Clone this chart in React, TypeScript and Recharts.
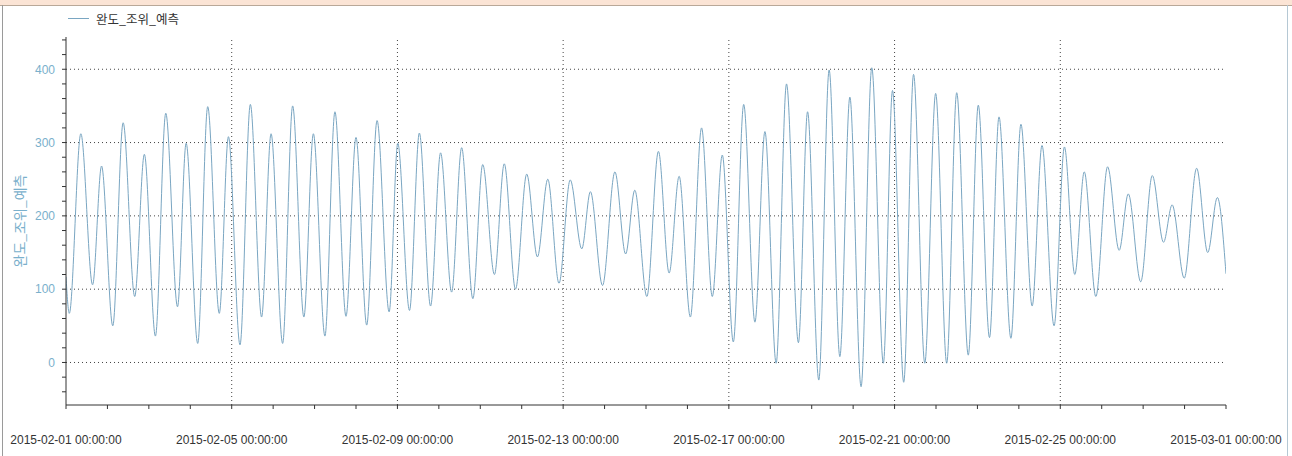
import React from 'react';
import { LineChart, Line, XAxis, YAxis, ReferenceLine } from 'recharts';

// Time of each high / low water, hours since 2015-02-01 00:00
const hours = [
  0, 1.9, 8.6, 15.4, 20.6, 27.1, 33.1, 39.8, 45.4, 51.8, 57.8, 64.6, 69.6, 76.3, 82.1, 88.8, 94.1,
  100.8, 106.8, 113.3, 118.8, 125.5, 131.3, 137.8, 143.3, 150.0, 155.8, 162.2, 168.0, 174.2, 180.2,
  187.2, 192.2, 199.0, 204.7, 211.2, 217.0, 223.4, 229.2, 235.7, 241.4, 248.2, 253.9, 260.4, 266.9,
  273.1, 279.1, 285.6, 292.1, 298.8, 303.8, 310.8, 318.0, 324.2, 329.5, 336.5, 343.2, 349.4, 355.2,
  361.7, 368.2, 374.4, 380.2, 386.6, 392.6, 399.1, 404.9, 411.4, 417.4, 424.3, 429.6, 436.1, 442.1,
  448.3, 454.1, 460.6, 466.8, 473.5, 478.8, 485.3, 491.0, 497.5, 503.8, 510.2, 516.0, 522.7, 528.5,
  535.0, 540.5, 547.4, 553.2, 559.7, 565.4, 572.4, 578.4, 584.4, 589.9, 596.6, 603.4, 610.1, 615.4,
  622.6, 629.3, 635.8, 640.8, 647.8, 655.0, 661.4, 667.0, 672,
];

// 완도 조위 예측 (cm) at those times
const levels = [
  117, 67, 312, 106, 268, 50, 327, 90, 284, 36, 340, 76, 299, 26, 349, 67, 308,
  24, 352, 62, 312, 26, 350, 62, 312, 36, 342, 63, 307, 51, 330,
  69, 299, 71, 313, 77, 286, 96, 293, 87, 270, 120, 271, 100, 257,
  144, 250, 108, 249, 155, 233, 105, 260, 148, 235, 90, 288, 122, 254,
  62, 320, 90, 283, 28, 352, 55, 315, -1, 380, 27, 342, -24, 399,
  8, 362, -33, 402, -1, 371, -27, 393, -1, 367, -1, 368, 10, 351,
  34, 335, 33, 325, 77, 296, 50, 294, 120, 260, 90, 267, 153, 230,
  110, 255, 164, 215, 115, 265, 150, 225, 121,
];

const xTickLabels = [
  '2015-02-01 00:00:00',
  '2015-02-05 00:00:00',
  '2015-02-09 00:00:00',
  '2015-02-13 00:00:00',
  '2015-02-17 00:00:00',
  '2015-02-21 00:00:00',
  '2015-02-25 00:00:00',
  '2015-03-01 00:00:00',
];

const yGridValues = [0, 100, 200, 300, 400];
const xGridHours = [96, 192, 288, 384, 480, 576];
const yMinorTicks = [-40, -20, 0, 20, 40, 60, 80, 100, 120, 140, 160, 180, 200, 220, 240, 260, 280, 300, 320, 340, 360, 380, 400, 420, 440];
const dayTicks = Array.from({ length: 29 }, (_, i) => i * 24);

const seriesName = '완도_조위_예측';

const data = hours.map((t, i) => ({ t, v: levels[i] }));

const LINE = '#7aa6c2';
const AXIS_TEXT = '#7ab0cc';
const X_DOMAIN: [number, number] = [0, 672];
const Y_DOMAIN: [number, number] = [-58, 444];

export default function App() {
  return (
    <div
      style={{
        position: 'absolute',
        left: 0,
        top: 0,
        width: 1292,
        height: 456,
        background: '#ffffff',
        overflow: 'hidden',
      }}
    >
      <div style={{ position: 'absolute', left: 0, top: 0, width: 1292, height: 5, background: '#fbe4d5' }} />
      <div style={{ position: 'absolute', left: 0, top: 5, width: 1292, height: 1, background: '#b9a898' }} />
      <div style={{ position: 'absolute', left: 2, top: 5, width: 1, height: 451, background: '#9a9a9a' }} />
      <div style={{ position: 'absolute', left: 1287, top: 5, width: 1, height: 451, background: '#b5c8d4' }} />

      <LineChart
        width={1292}
        height={456}
        data={data}
        margin={{ top: 37, right: 66, bottom: 11, left: 0 }}
        style={{ position: 'absolute', left: 0, top: 0 }}
      >
        <XAxis
          dataKey="t"
          type="number"
          domain={X_DOMAIN}
          ticks={dayTicks}
          interval={0}
          allowDataOverflow
          height={40}
          tickSize={4}
          tickMargin={26}
          axisLine={{ stroke: '#333', strokeWidth: 1 }}
          tickLine={{ stroke: '#333' }}
          tick={{ fill: '#333', fontSize: 12, fontFamily: 'Liberation Sans, Arial, sans-serif' }}
          tickFormatter={(h: number) => (h % 96 === 0 ? xTickLabels[h / 96] : '')}
        />
        <XAxis
          xAxisId="top"
          orientation="top"
          dataKey="t"
          type="number"
          domain={X_DOMAIN}
          ticks={dayTicks}
          interval={0}
          allowDataOverflow
          height={0}
          mirror
          tickSize={4}
          axisLine={{ stroke: '#333', strokeWidth: 1 }}
          tickLine={{ stroke: '#555' }}
          tick={false}
        />
        <YAxis
          type="number"
          domain={Y_DOMAIN}
          ticks={yMinorTicks}
          interval={0}
          allowDataOverflow
          width={66}
          tickSize={4}
          tickMargin={7}
          axisLine={{ stroke: '#333', strokeWidth: 1 }}
          tickLine={{ stroke: '#333' }}
          tick={{ fill: AXIS_TEXT, fontSize: 12, fontFamily: 'Liberation Sans, Arial, sans-serif' }}
          tickFormatter={(v: number) => (v % 100 === 0 ? String(v) : '')}
          label={{
            value: seriesName,
            angle: -90,
            position: 'center',
            dx: -13,
            fill: AXIS_TEXT,
            fontSize: 14,
            fontFamily: 'Noto Sans CJK KR, sans-serif',
          }}
        />
        <YAxis
          yAxisId="right"
          orientation="right"
          type="number"
          domain={Y_DOMAIN}
          allowDataOverflow
          width={0}
          tick={false}
          tickLine={false}
          axisLine={{ stroke: '#8a8a8a', strokeWidth: 2 }}
        />
        {yGridValues.map((v) => (
          <ReferenceLine key={'y' + v} y={v} stroke="#444" strokeDasharray="1 3" />
        ))}
        {xGridHours.map((h) => (
          <ReferenceLine key={'x' + h} x={h} stroke="#444" strokeDasharray="1 3" />
        ))}
        <Line
          type="monotone"
          dataKey="v"
          name={seriesName}
          stroke={LINE}
          strokeWidth={1}
          dot={false}
          isAnimationActive={false}
        />
      </LineChart>

      <div style={{ position: 'absolute', left: 68, top: 18, width: 21, height: 1, background: LINE }} />
      <div
        style={{
          position: 'absolute',
          left: 96,
          top: 10,
          fontSize: 12.5,
          lineHeight: '18px',
          color: '#333',
          fontFamily: 'Noto Sans CJK KR, sans-serif',
          whiteSpace: 'nowrap',
        }}
      >
        {seriesName}
      </div>
    </div>
  );
}
